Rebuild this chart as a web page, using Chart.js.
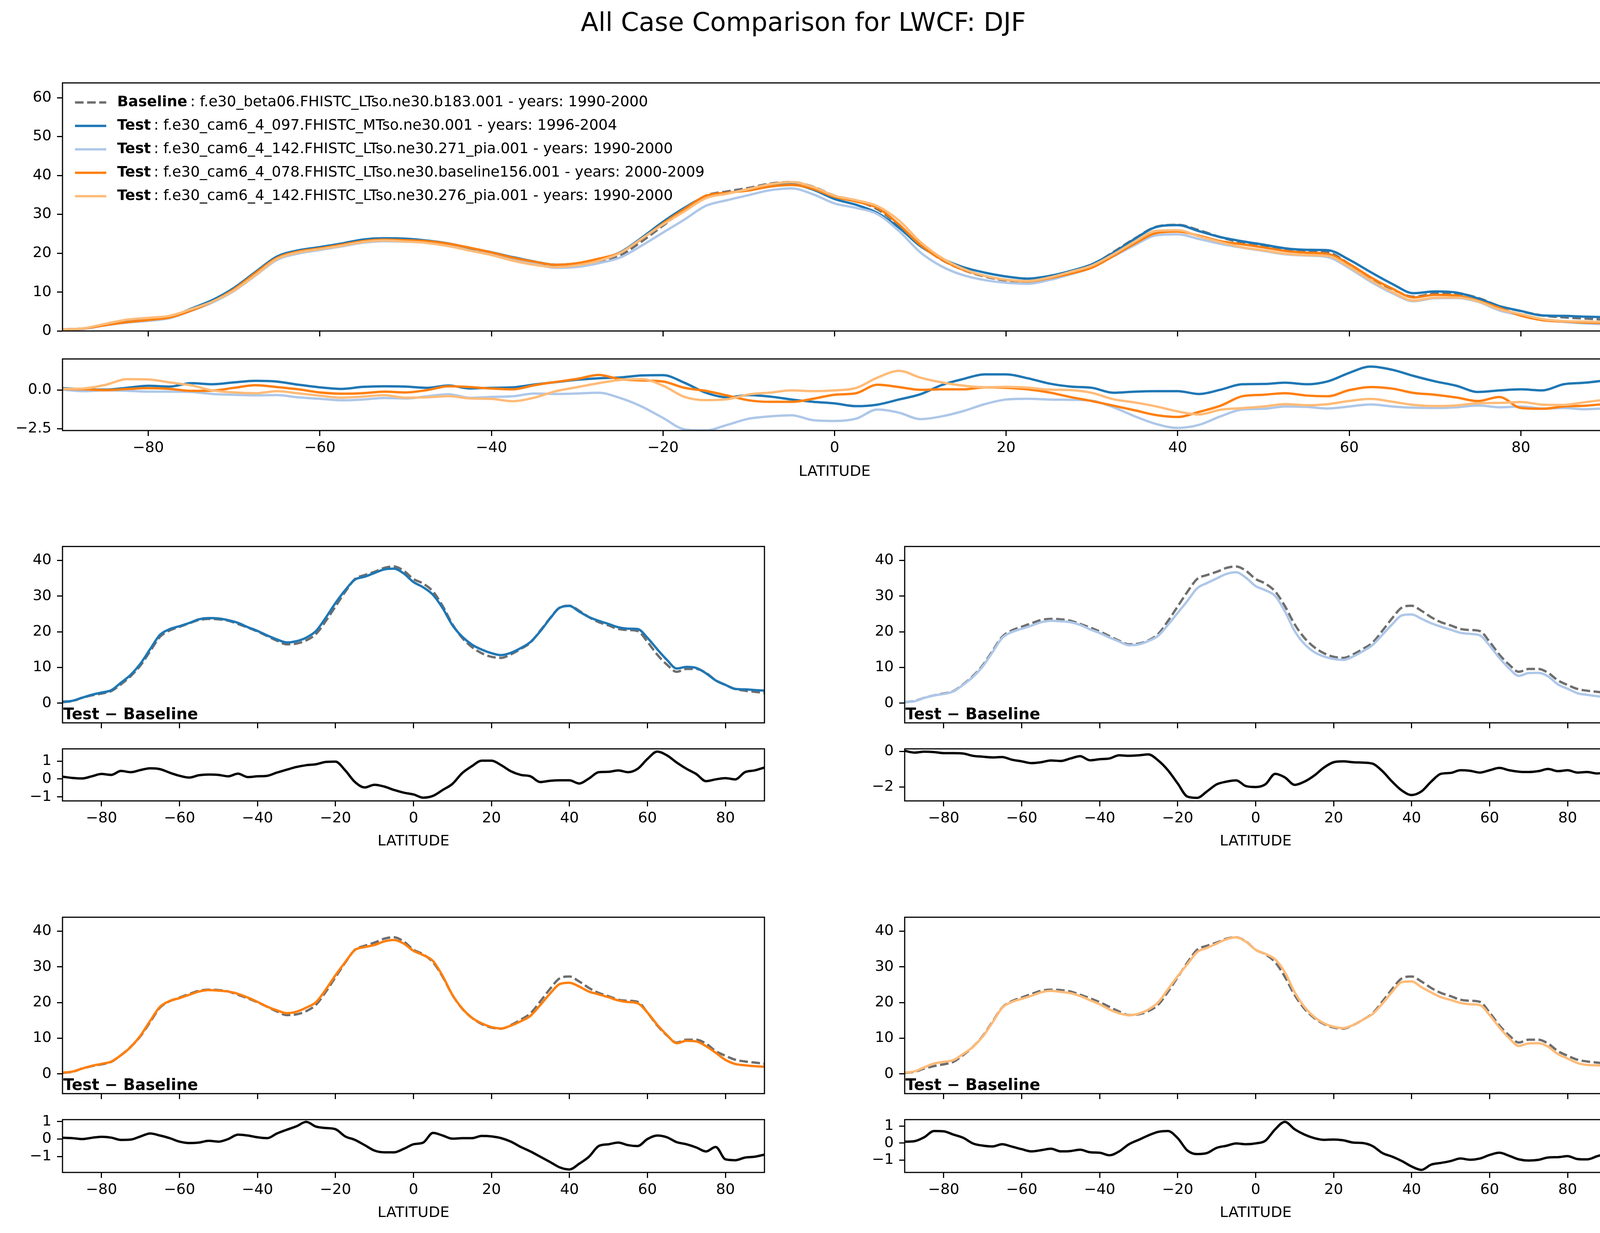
<!DOCTYPE html>
<html>
<head>
<meta charset="utf-8">
<script src="https://cdn.jsdelivr.net/npm/chart.js@4.4.1/dist/chart.umd.min.js"></script>
<style>
  html, body { margin: 0; padding: 0; background: #fff; overflow: hidden; }
  #fig { position: relative; width: 4142px; height: 3156px; background: #fff; overflow: hidden; }
  #fig canvas { position: absolute; }
</style>
</head>
<body>
<div id="fig"></div>
<script>
// zonal mean LWCF, DJF
const lat = [-90, -87.5, -85, -82.5, -80, -77.5, -75, -72.5, -70, -67.5,
  -65, -62.5, -60, -57.5, -55, -52.5, -50, -47.5, -45, -42.5,
  -40, -37.5, -35, -32.5, -30, -27.5, -25, -22.5, -20, -17.5,
  -15, -12.5, -10, -7.5, -5, -2.5, 0, 2.5, 5, 7.5,
  10, 12.5, 15, 17.5, 20, 22.5, 25, 27.5, 30, 32.5,
  35, 37.5, 40, 42.5, 45, 47.5, 50, 52.5, 55, 57.5,
  60, 62.5, 65, 67.5, 70, 72.5, 75, 77.5, 80, 82.5,
  85, 87.5, 90];

const baseline = [0.3, 0.6, 1.5, 2.2, 2.7, 3.4, 5.3, 7.6, 10.6, 14.6,
  18.6, 20.4, 21.4, 22.4, 23.3, 23.6, 23.5, 23.1, 22.2, 21.2,
  20.1, 18.8, 17.5, 16.5, 16.7, 17.6, 19.4, 23.0, 27.1, 31.2,
  34.8, 35.9, 36.8, 37.9, 38.3, 37.1, 34.8, 33.5, 31.3, 27.2,
  22.1, 18.3, 15.7, 14.0, 13.0, 12.7, 13.7, 15.2, 17.0, 20.3,
  23.8, 26.8, 27.3, 25.9, 24.1, 22.7, 21.8, 20.8, 20.5, 20.2,
  17.2, 13.6, 10.8, 8.8, 9.6, 9.6, 8.5, 6.4, 5.1, 4.0,
  3.5, 3.2, 2.9];

// test - baseline, one array per test case
const diff097 = [0.13, 0.06, 0.03, 0.15, 0.28, 0.23, 0.45, 0.38, 0.5, 0.6,
  0.55, 0.35, 0.18, 0.08, 0.21, 0.25, 0.23, 0.15, 0.3, 0.11,
  0.15, 0.18, 0.36, 0.52, 0.67, 0.77, 0.82, 0.95, 0.97, 0.48,
  -0.17, -0.47, -0.32, -0.42, -0.61, -0.76, -0.86, -1.04, -0.94, -0.61,
  -0.27, 0.33, 0.72, 1.02, 1.02, 0.77, 0.43, 0.23, 0.15, -0.17,
  -0.1, -0.07, -0.07, -0.25, 0.03, 0.38, 0.4, 0.48, 0.38, 0.57,
  1.12, 1.53, 1.32, 0.92, 0.57, 0.28, -0.12, -0.02, 0.05, -0.02,
  0.38, 0.48, 0.64];

const diff271 = [0.03, -0.07, -0.02, -0.04, -0.1, -0.1, -0.12, -0.25, -0.3, -0.34,
  -0.32, -0.47, -0.56, -0.66, -0.61, -0.51, -0.54, -0.4, -0.27, -0.5,
  -0.44, -0.4, -0.22, -0.25, -0.22, -0.17, -0.51, -1.06, -1.8, -2.54,
  -2.61, -2.25, -1.85, -1.7, -1.63, -1.95, -2.0, -1.85, -1.26, -1.46,
  -1.88, -1.7, -1.36, -0.91, -0.61, -0.56, -0.61, -0.63, -0.69, -1.11,
  -1.7, -2.2, -2.45, -2.25, -1.7, -1.26, -1.21, -1.06, -1.09, -1.19,
  -1.06, -0.93, -1.06, -1.14, -1.16, -1.11, -0.99, -1.11, -1.06, -1.19,
  -1.16, -1.24, -1.18];

const diff078 = [0.07, 0.05, 0, 0.07, 0.13, 0.08, -0.05, -0.03, 0.15, 0.32,
  0.2, 0.05, -0.15, -0.23, -0.2, -0.1, -0.15, 0, 0.25, 0.2,
  0.1, 0.05, 0.32, 0.53, 0.73, 0.98, 0.71, 0.63, 0.56, 0.15,
  -0.05, -0.35, -0.66, -0.76, -0.76, -0.56, -0.3, -0.2, 0.35, 0.2,
  0.02, 0.05, 0.05, 0.18, 0.15, 0.05, -0.15, -0.45, -0.71, -1.01,
  -1.31, -1.62, -1.74, -1.41, -1.01, -0.4, -0.3, -0.2, -0.35, -0.4,
  0, 0.2, 0.1, -0.18, -0.3, -0.48, -0.71, -0.45, -1.16, -1.21,
  -1.06, -1.01, -0.89];

const diff276 = [0.08, 0.11, 0.34, 0.71, 0.69, 0.5, 0.31, -0.02, -0.15, -0.2,
  -0.07, -0.21, -0.36, -0.49, -0.42, -0.33, -0.49, -0.47, -0.39, -0.54,
  -0.57, -0.72, -0.49, -0.07, 0.19, 0.45, 0.66, 0.71, 0.29, -0.44,
  -0.65, -0.59, -0.28, -0.16, -0.02, -0.07, -0.02, 0.14, 0.81, 1.25,
  0.81, 0.5, 0.29, 0.19, 0.21, 0.16, 0.03, 0, -0.18, -0.59,
  -0.8, -1.06, -1.38, -1.58, -1.27, -1.17, -1.06, -0.91, -0.98, -0.91,
  -0.7, -0.57, -0.75, -0.96, -1.03, -0.99, -0.85, -0.83, -0.77, -0.94,
  -0.96, -0.78, -0.61];

const caseLabels = ['Baseline', 'Test', 'Test', 'Test', 'Test'];
const caseNames = [
  'f.e30_beta06.FHISTC_LTso.ne30.b183.001 - years: 1990-2000',
  'f.e30_cam6_4_097.FHISTC_MTso.ne30.001 - years: 1996-2004',
  'f.e30_cam6_4_142.FHISTC_LTso.ne30.271_pia.001 - years: 1990-2000',
  'f.e30_cam6_4_078.FHISTC_LTso.ne30.baseline156.001 - years: 2000-2009',
  'f.e30_cam6_4_142.FHISTC_LTso.ne30.276_pia.001 - years: 1990-2000'
];

const latTicks = [-80, -60, -40, -20, 0, 20, 40, 60, 80];
const topTicks = [0, 10, 20, 30, 40, 50, 60];
const topDiffTicks = [-2.5, 0];
const smallTicks = [0, 10, 20, 30, 40];
const smallDiffTicks = [[-1, 0, 1], [-2, 0], [-1, 0, 1], [-1, 0, 1]];

// the plotted test curves are baseline + (test - baseline)
const diffs = [diff097, diff271, diff078, diff276];
const tests = diffs.map(d => baseline.map((b, i) => b + d[i]));

const FONT = "'DejaVu Sans', sans-serif";
const colors = ['#6e6e6e', '#1f77b4', '#aec7e8', '#ff7f0e', '#ffbb78'];
const fig = document.getElementById('fig');

function fmt(v, digits) {
  const s = Math.abs(v).toFixed(digits);
  return v < 0 ? '\u2212' + s : s;
}

function line(values, color, dash, order) {
  return {
    data: lat.map((x, i) => ({ x: x, y: values[i] })),
    borderColor: color,
    borderWidth: 6,
    borderDash: dash || [],
    pointRadius: 0,
    fill: false,
    cubicInterpolationMode: 'monotone',
    order: order || 0
  };
}

const tickGrid = {
  display: true, drawOnChartArea: false, drawTicks: true,
  tickLength: 14, tickWidth: 3, tickColor: '#000'
};

function xAxis(labels, height) {
  return {
    type: 'linear', min: -90, max: 90,
    afterBuildTicks: s => { s.ticks = latTicks.map(v => ({ value: v })); },
    afterFit: s => { s.height = height; },
    grid: tickGrid,
    border: { display: false },
    ticks: {
      display: labels, color: '#000', font: { family: FONT, size: 38 },
      padding: 8, maxRotation: 0, autoSkip: false,
      callback: v => fmt(v, 0)
    },
    title: {
      display: labels, text: 'LATITUDE', color: '#000',
      font: { family: FONT, size: 38 }, padding: { top: 0, bottom: 4 }
    }
  };
}

function yAxis(min, max, ticks, digits) {
  return {
    type: 'linear', min: min, max: max,
    afterBuildTicks: s => { s.ticks = ticks.map(v => ({ value: v })); },
    afterFit: s => { s.width = 160; },
    grid: tickGrid,
    border: { display: false },
    ticks: { color: '#000', font: { family: FONT, size: 38 }, padding: 14,
      callback: v => fmt(v, digits) }
  };
}

// black box round every axes, like matplotlib spines
const frame = {
  id: 'frame',
  afterDraw(chart) {
    const a = chart.chartArea, ctx = chart.ctx;
    ctx.save();
    ctx.strokeStyle = '#000';
    ctx.lineWidth = 3;
    ctx.strokeRect(a.left, a.top, a.right - a.left, a.bottom - a.top);
    ctx.restore();
  }
};

// legend with bold case tag followed by the case name
const caseLegend = {
  id: 'caseLegend',
  afterDraw(chart) {
    const a = chart.chartArea, ctx = chart.ctx;
    ctx.save();
    caseLabels.forEach((tag, i) => {
      const y = a.top + 50 + i * 60;
      ctx.strokeStyle = colors[i];
      ctx.lineWidth = 6;
      ctx.setLineDash(i === 0 ? [22, 9] : []);
      ctx.beginPath();
      ctx.moveTo(a.left + 32, y);
      ctx.lineTo(a.left + 112, y);
      ctx.stroke();
      ctx.setLineDash([]);
      ctx.fillStyle = '#000';
      ctx.textBaseline = 'middle';
      ctx.font = 'bold 37.5px ' + FONT;
      ctx.fillText(tag, a.left + 140, y);
      const w = ctx.measureText(tag).width;
      ctx.font = '37.5px ' + FONT;
      ctx.fillText('\u2009: ' + caseNames[i], a.left + 140 + w, y);
    });
    ctx.restore();
  }
};

const diffTag = {
  id: 'diffTag',
  afterDraw(chart) {
    const a = chart.chartArea, ctx = chart.ctx;
    ctx.save();
    ctx.font = 'bold 40px ' + FONT;
    ctx.fillStyle = '#000';
    ctx.textBaseline = 'alphabetic';
    ctx.fillText('Test \u2212 Baseline', a.left + 2, a.bottom - 9);
    ctx.restore();
  }
};

function makeChart(left, top, width, height, config) {
  const c = document.createElement('canvas');
  c.width = width;
  c.height = height;
  c.style.left = left + 'px';
  c.style.top = top + 'px';
  c.style.width = width + 'px';
  c.style.height = height + 'px';
  fig.appendChild(c);
  config.options.responsive = false;
  config.options.animation = false;
  config.options.devicePixelRatio = 1;
  config.options.plugins = Object.assign({ legend: { display: false }, tooltip: { enabled: false } },
    config.options.plugins || {});
  return new Chart(c, config);
}

// top panel: all cases
makeChart(0, 0, 4142, 884, {
  type: 'line',
  data: {
    datasets: [line(baseline, colors[0], [22, 9], 5)]
      .concat(tests.map((t, i) => line(t, colors[i + 1], null, 4 - i)))
  },
  options: {
    layout: { padding: { top: 0, right: 29, left: 0, bottom: 0 } },
    scales: { x: xAxis(false, 20), y: yAxis(0, 63.8, topTicks, 0) },
    plugins: {
      title: {
        display: true, text: 'All Case Comparison for LWCF: DJF', color: '#000',
        font: { family: FONT, size: 66, weight: 'normal' },
        padding: { top: 22, bottom: 111 }
      }
    }
  },
  plugins: [frame, caseLegend]
});

// differences of all cases
makeChart(0, 882, 4142, 353, {
  type: 'line',
  data: { datasets: diffs.map((d, i) => line(d, colors[i + 1], null, 4 - i)) },
  options: {
    layout: { padding: { top: 4, right: 29, left: 0, bottom: 0 } },
    scales: { x: xAxis(true, 133), y: yAxis(-2.62, 2.02, topDiffTicks, 1) }
  },
  plugins: [frame]
});

// one pair of panels per test case
const smallPanels = [
  { left: 0, top: 1366, dtop: 1884, dh: 166, dmin: -1.22, dmax: 1.68 },
  { left: 2156, top: 1366, dtop: 1884, dh: 166, dmin: -2.78, dmax: 0.14 },
  { left: 0, top: 2315, dtop: 2833, dh: 168, dmin: -1.91, dmax: 1.11 },
  { left: 2156, top: 2315, dtop: 2833, dh: 168, dmin: -1.73, dmax: 1.38 }
];

smallPanels.forEach((p, i) => {
  makeChart(p.left, p.top - 4, 1963, 525, {
    type: 'line',
    data: { datasets: [line(baseline, colors[0], [22, 9], 1), line(tests[i], colors[i + 1], null, 0)] },
    options: {
      layout: { padding: { top: 4, right: 6, left: 0, bottom: 0 } },
      scales: { x: xAxis(false, 20), y: yAxis(-5.5, 43.9, smallTicks, 0) }
    },
    plugins: [frame, diffTag]
  });
  makeChart(p.left, p.dtop - 4, 1963, 4 + p.dh + 131, {
    type: 'line',
    data: { datasets: [line(diffs[i], '#000')] },
    options: {
      layout: { padding: { top: 4, right: 6, left: 0, bottom: 0 } },
      scales: { x: xAxis(true, 131), y: yAxis(p.dmin, p.dmax, smallDiffTicks[i], 0) }
    },
    plugins: [frame]
  });
});
</script>
</body>
</html>
